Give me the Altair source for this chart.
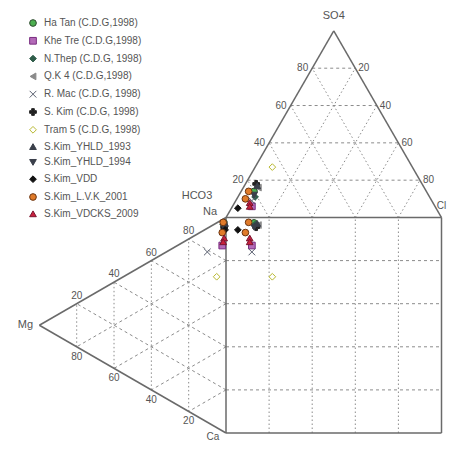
import math
import altair as alt
import pandas as pd

# ---------------- data ----------------
SERIES = [
    "Ha Tan (C.D.G,1998)", "Khe Tre (C.D.G,1998)", "N.Thep (C.D.G, 1998)",
    "Q.K 4 (C.D.G,1998)", "R. Mac (C.D.G, 1998)", "S. Kim (C.D.G, 1998)",
    "Tram 5 (C.D.G, 1998)", "S.Kim_YHLD_1993", "S.Kim_YHLD_1994",
    "S.Kim_VDD", "S.Kim_L.V.K_2001", "S.Kim_VDCKS_2009",
]
SHAPES = ["circle", "square", "diamond", "triangle-left", "M-1,-1L1,1M-1,1L1,-1",
          "cross", "diamond", "triangle-up", "triangle-down", "diamond", "circle",
          "triangle-up"]
FILLS = ["#4caf50", "#b36ab8", "#2f5d4a", "#8a8a8a", "transparent", "#222222",
         "#ffffff", "#3a3f4a", "#3a3f4a", "#111111", "#e07b2a", "#c8203c"]
STROKES = ["#2e4a2e", "#7a2d80", "#2f5d4a", "#8a8a8a", "#5a6070", "#222222",
           "#b8b830", "#3a3f4a", "#3a3f4a", "#111111", "#6b3410", "#7a1530"]

# samples: anion % (SO4, Cl; HCO3 = rest) and cation % (Na, Mg; Ca = rest)
S_SERIES = ["Ha Tan (C.D.G,1998)", "Khe Tre (C.D.G,1998)", "N.Thep (C.D.G, 1998)",
            "Q.K 4 (C.D.G,1998)", "R. Mac (C.D.G, 1998)", "S. Kim (C.D.G, 1998)",
            "Tram 5 (C.D.G, 1998)", "S.Kim_YHLD_1993", "S.Kim_YHLD_1994",
            "S.Kim_VDD", "S.Kim_L.V.K_2001", "S.Kim_L.V.K_2001",
            "S.Kim_VDCKS_2009", "S.Kim_VDCKS_2009"]
S_SO4 = [14, 6, 11, 16, 9, 18, 27, 17, 12, 5, 14, 10, 8, 6]
S_CL = [6, 9, 8, 7, 7.5, 5, 8, 6, 7, 3, 3.5, 4, 7, 8]
S_NA = [97, 86, 96, 96, 79, 95, 70, 97, 95, 94, 97, 92, 90, 88]
S_MG = [1, 2, 1.5, 1, 10, 1, 5, 0.5, 1, 0.5, 1.5, 2, 1, 1.5]

TICKS = [20, 40, 60, 80]

# ---------------- geometry helpers ----------------
HT = math.sqrt(3) / 2 * 100  # triangle height in square units


def top_xy(so4, cl):
    return cl + so4 / 2.0, 100 + so4 * HT / 100.0


def left_xy(na, mg):
    return -mg * HT / 100.0, na + mg / 2.0


pts = []
for i, name in enumerate(S_SERIES):
    tx, ty = top_xy(S_SO4[i], S_CL[i])
    lx, ly = left_xy(S_NA[i], S_MG[i])
    for px, py in [(tx, ty), (lx, ly), (tx, ly)]:
        pts.append({"series": name, "x": px, "y": py, "o": len(pts)})
pts_df = pd.DataFrame(pts)

# frame
A = top_xy(100, 0)
C0 = (0, 100)
C1 = (100, 100)
MG = left_xy(0, 100)
frame = [
    (C0, A), (A, C1), ((0, 0), (100, 0)), ((100, 0), C1), (C1, C0),
    ((0, 0), C0), (C0, MG), (MG, (0, 0)),
]
frame_df = pd.DataFrame([{"x": a[0], "y": a[1], "x2": b[0], "y2": b[1]} for a, b in frame])

dash_rows = []
dot_rows = []
for t in TICKS:
    # top triangle
    a = top_xy(t, 0); b = top_xy(t, 100 - t)
    dash_rows.append((a, b))
    a = top_xy(0, t); b = top_xy(100 - t, t)
    dot_rows.append((a, b))
    a = top_xy(0, 100 - t); b = top_xy(100 - t, 0)
    dot_rows.append((a, b))
    # square
    dot_rows.append(((t, 0), (t, 100)))
    dash_rows.append(((0, t), (100, t)))
    # left triangle
    dot_rows.append((left_xy(0, t), left_xy(100 - t, t)))
    dash_rows.append((left_xy(t, 0), left_xy(t, 100 - t)))
    dash_rows.append((left_xy(100 - t, 0), left_xy(0, 100 - t)))

dash_df = pd.DataFrame([{"x": a[0], "y": a[1], "x2": b[0], "y2": b[1]} for a, b in dash_rows])
dot_df = pd.DataFrame([{"x": a[0], "y": a[1], "x2": b[0], "y2": b[1]} for a, b in dot_rows])

# tick labels
lab_r, lab_l, lab_up, lab_dn = [], [], [], []
for t in TICKS:
    x, y = top_xy(t, 0)
    lab_r.append({"x": x, "y": y, "t": str(t)})
    x, y = top_xy(t, 100 - t)
    lab_l.append({"x": x, "y": y, "t": str(100 - t)})
    x, y = left_xy(100 - t, t)
    lab_up.append({"x": x, "y": y, "t": str(100 - t)})
    x, y = left_xy(0, t)
    lab_dn.append({"x": x, "y": y, "t": str(t)})

# ---------------- scales ----------------
K = 2.155
XMIN = -(226 - 8) / K
XMAX = XMIN + 439 / K
YMAX = (433 - 8) / K
YMIN = YMAX - 435 / K
xs = alt.Scale(domain=[XMIN, XMAX], nice=False, zero=False)
ys = alt.Scale(domain=[YMIN, YMAX], nice=False, zero=False)
X = alt.X("x:Q", scale=xs, axis=None)
Y = alt.Y("y:Q", scale=ys, axis=None)

GRID = "#8c8c8c"
TXT = "#555555"
FONT = "Liberation Sans"


def seg_layer(df, color, width, dash=None):
    kw = dict(color=color, strokeWidth=width)
    if dash:
        kw["strokeDash"] = dash
    return alt.Chart(df).mark_rule(**kw).encode(
        x=X, y=Y, x2="x2:Q", y2="y2:Q")


def text_layer(df, size=10, **kw):
    return alt.Chart(pd.DataFrame(df)).mark_text(
        font=FONT, color=TXT, fontSize=size, **kw).encode(x=X, y=Y, text="t:N")


layers = [
    seg_layer(dash_df, GRID, 1, [3, 3]),
    seg_layer(dot_df, GRID, 1, [1.5, 2.5]),
    seg_layer(frame_df, "#6a6a6a", 1.5),
    text_layer(lab_r, align="right", dx=-4, baseline="middle"),
    text_layer(lab_l, align="left", dx=3, baseline="middle"),
    text_layer(lab_up, align="center", dy=-8, baseline="middle"),
    text_layer(lab_dn, align="center", dy=10, baseline="middle"),
]

vtx = [
    ("SO4", top_xy(100, 0), 0, -15, 11),
    ("HCO3", top_xy(0, 0), -29, -22, 11),
    ("Na", left_xy(100, 0), -16, -6, 11),
    ("Mg", left_xy(0, 100), -14, 0, 11),
    ("Ca", left_xy(0, 0), -13, 4, 10),
    ("Cl", top_xy(0, 100), 0, -12, 10),
]
for t, (x, y), dx, dy, fs in vtx:
    layers.append(text_layer([{"x": x, "y": y, "t": t}], size=fs, align="center",
                             baseline="middle", dx=dx, dy=dy))

points = alt.Chart(pts_df).mark_point(filled=True, size=45, strokeWidth=1, opacity=1).encode(
    x=X, y=Y,
    shape=alt.Shape("series:N", scale=alt.Scale(domain=SERIES, range=SHAPES), title=None),
    fill=alt.Fill("series:N", scale=alt.Scale(domain=SERIES, range=FILLS), title=None),
    stroke=alt.Stroke("series:N", scale=alt.Scale(domain=SERIES, range=STROKES), title=None),
    order=alt.Order("o:Q"),
)
layers.append(points)

chart = alt.layer(*layers).properties(
    width=439, height=435, padding=0, background="white",
    autosize=alt.AutoSizeParams(type="none"),
).configure_view(stroke=None).configure_legend(
    orient="none", legendX=20, legendY=10, padding=0,
    labelFont=FONT, labelFontSize=10, labelColor=TXT, labelOffset=6,
    rowPadding=5.8, symbolSize=45, symbolStrokeWidth=1,
)

chart.save("out.html", embed_options={"renderer": "svg", "actions": False})
